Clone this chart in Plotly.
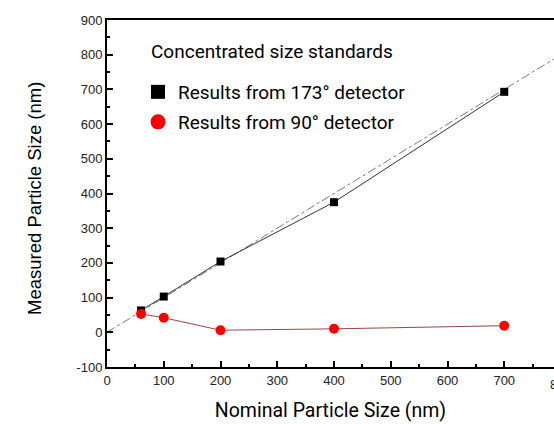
import plotly.graph_objects as go

nominal = [60, 100, 200, 400, 700]
det173 = [63, 103, 204, 375, 693]
det90 = [53, 42, 6, 10, 19]
ref_x = [0, 800]
ref_y = [0, 800]

x_ticks = [0, 100, 200, 300, 400, 500, 600, 700]
y_ticks = [-100, 0, 100, 200, 300, 400, 500, 600, 700, 800, 900]
y_ticktext = ["-100", "0", "100", "200", "300", "400", "500", "600", "700", "800", "900"]

title_text = "Concentrated size standards"
name173 = "Results from 173° detector"
name90 = "Results from 90° detector"
x_title = "Nominal Particle Size (nm)"
y_title = "Measured Particle Size (nm)"

fig = go.Figure()
fig.add_trace(go.Scatter(x=ref_x, y=ref_y, mode="lines",
                         line=dict(color="#777777", width=1, dash="dashdot"),
                         showlegend=False, hoverinfo="skip"))
fig.add_trace(go.Scatter(x=nominal, y=det173, mode="lines+markers",
                         line=dict(color="#333333", width=1),
                         marker=dict(symbol="square", size=8, color="black"),
                         showlegend=False))
fig.add_trace(go.Scatter(x=nominal, y=det90, mode="lines+markers",
                         line=dict(color="#9a4545", width=1),
                         marker=dict(symbol="circle", size=10, color="#ff0000"),
                         showlegend=False))
# legend entries
fig.add_trace(go.Scatter(x=[None], y=[None], mode="markers", name=name173,
                         marker=dict(symbol="square", size=14, color="black"),
                         legend="legend"))
fig.add_trace(go.Scatter(x=[None], y=[None], mode="markers", name=name90,
                         marker=dict(symbol="circle", size=15, color="#ff0000"),
                         legend="legend2"))

L, T, R, B = 107, 20, 0, 57
W, H = 554, 424
pw = W - L - R
ph = H - T - B

def px(x):
    return (x - L) / pw

def py(y):
    return (T + ph - y) / ph

legfont = dict(family="Roboto", size=19, color="black")
fig.update_layout(
    width=W, height=H,
    margin=dict(l=L, r=R, t=T, b=B),
    paper_bgcolor="white", plot_bgcolor="white",
    legend=dict(x=px(138), y=py(92), xanchor="left", yanchor="middle",
                bgcolor="rgba(0,0,0,0)", font=legfont),
    legend2=dict(x=px(138), y=py(122), xanchor="left", yanchor="middle",
                 bgcolor="rgba(0,0,0,0)", font=legfont),
    annotations=[dict(text=title_text, xref="paper", yref="paper",
                      x=px(149), y=py(52), xanchor="left", yanchor="middle",
                      showarrow=False, font=legfont),
                 dict(text=y_title, xref="paper", yref="paper", textangle=-90,
                      x=px(35), y=py(199), xanchor="center", yanchor="middle",
                      showarrow=False,
                      font=dict(family="Liberation Sans", size=18.5, color="black")),
                 dict(text="800", xref="paper", yref="paper",
                      x=px(561), y=0, xanchor="center", yanchor="top", yshift=-8,
                      showarrow=False,
                      font=dict(family="Liberation Sans", size=13, color="#222222"))],
)
x_range = [0, 800 * (W - L - R) / (561 - L)]
fig.update_xaxes(range=x_range, tickmode="array", tickvals=x_ticks,
                 ticks="inside", ticklen=6, tickwidth=1.5, tickcolor="black",
                 minor=dict(ticks="inside", ticklen=3, dtick=50, tick0=0, tickcolor="black", tickwidth=1.5),
                 showline=True, linecolor="black", linewidth=2, mirror=True,
                 showgrid=False, zeroline=False,
                 tickfont=dict(family="Liberation Sans", size=13, color="#222222"),
                 title=dict(text=x_title, standoff=17,
                            font=dict(family="Roboto", size=19.5, color="black")))
fig.update_yaxes(range=[-100, 900], tickmode="array", tickvals=y_ticks, ticktext=y_ticktext,
                 ticks="inside", ticklen=6, tickwidth=1.5, tickcolor="black",
                 minor=dict(ticks="inside", ticklen=3, dtick=50, tick0=0, tickcolor="black", tickwidth=1.5),
                 showline=True, linecolor="black", linewidth=2, mirror=False,
                 showgrid=False, zeroline=False,
                 tickfont=dict(family="Liberation Sans", size=13, color="#222222"))

fig.write_html("out.html")
